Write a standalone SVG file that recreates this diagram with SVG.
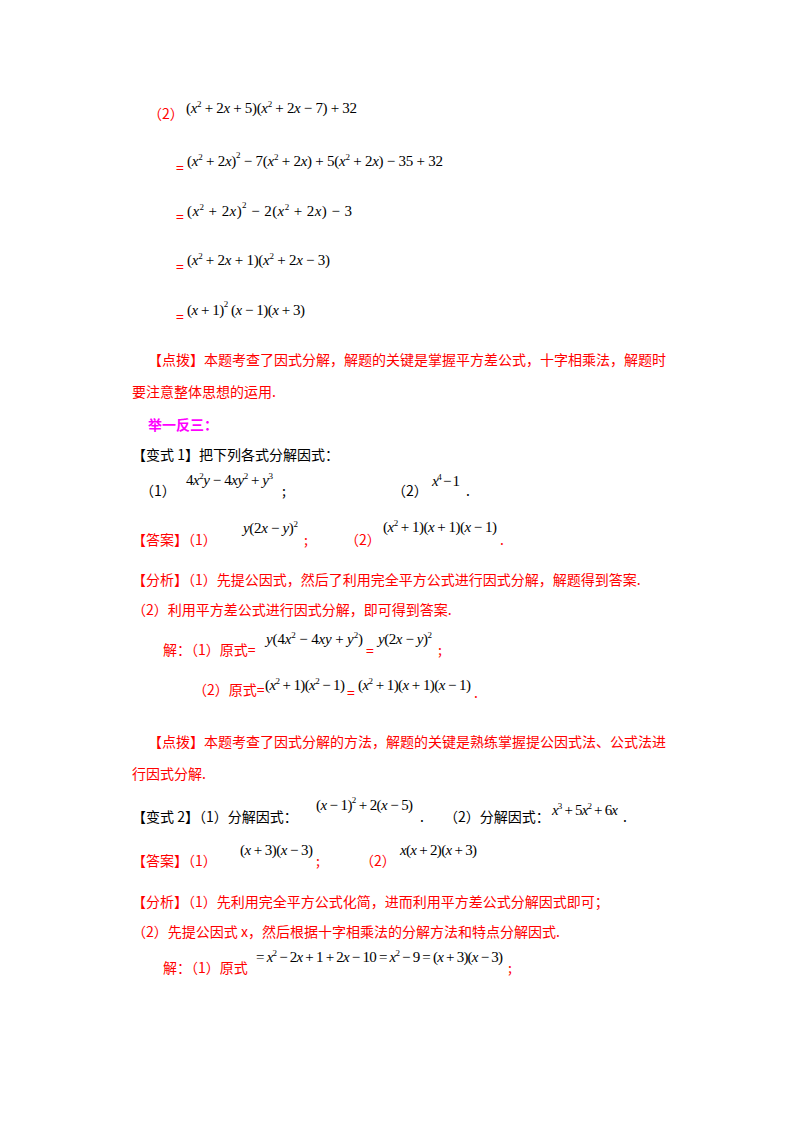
<svg xmlns="http://www.w3.org/2000/svg" width="800" height="1132" viewBox="0 0 800 1132">
<style>
.c{font-family:"Noto Sans CJK SC","Liberation Serif",sans-serif;font-size:14px;fill:#000}
.r{fill:#ff0000}
.m{font-family:"Liberation Serif",serif;font-size:15px;fill:#000}
.i{font-style:italic}
.s{font-size:9px}
</style>
<rect width="800" height="1132" fill="#fff"/>
<g id="p1">
<text class="c r" x="148" y="119">（2）</text>
<text class="m" x="186" y="113" textLength="171" lengthAdjust="spacing">(<tspan class="i">x</tspan><tspan class="s" dy="-6">2</tspan><tspan dy="6"> + 2</tspan><tspan class="i">x</tspan> + 5)(<tspan class="i">x</tspan><tspan class="s" dy="-6">2</tspan><tspan dy="6"> + 2</tspan><tspan class="i">x</tspan> − 7) + 32</text>
<text class="c r" x="176" y="173">=</text>
<text class="m" x="187" y="166" textLength="256" lengthAdjust="spacing">(<tspan class="i">x</tspan><tspan class="s" dy="-6">2</tspan><tspan dy="6"> + 2</tspan><tspan class="i">x</tspan>)<tspan class="s" dy="-8">2</tspan><tspan dy="8"> − 7(</tspan><tspan class="i">x</tspan><tspan class="s" dy="-6">2</tspan><tspan dy="6"> + 2</tspan><tspan class="i">x</tspan>) + 5(<tspan class="i">x</tspan><tspan class="s" dy="-6">2</tspan><tspan dy="6"> + 2</tspan><tspan class="i">x</tspan>) − 35 + 32</text>
<text class="c r" x="176" y="222">=</text>
<text class="m" x="187" y="216" textLength="165" lengthAdjust="spacing">(<tspan class="i">x</tspan><tspan class="s" dy="-6">2</tspan><tspan dy="6"> + 2</tspan><tspan class="i">x</tspan>)<tspan class="s" dy="-8">2</tspan><tspan dy="8"> − 2(</tspan><tspan class="i">x</tspan><tspan class="s" dy="-6">2</tspan><tspan dy="6"> + 2</tspan><tspan class="i">x</tspan>) − 3</text>
<text class="c r" x="176" y="272">=</text>
<text class="m" x="187" y="265" textLength="143" lengthAdjust="spacing">(<tspan class="i">x</tspan><tspan class="s" dy="-6">2</tspan><tspan dy="6"> + 2</tspan><tspan class="i">x</tspan> + 1)(<tspan class="i">x</tspan><tspan class="s" dy="-6">2</tspan><tspan dy="6"> + 2</tspan><tspan class="i">x</tspan> − 3)</text>
<text class="c r" x="176" y="322">=</text>
<text class="m" x="187" y="315" textLength="118" lengthAdjust="spacing">(<tspan class="i">x</tspan> + 1)<tspan class="s" dy="-8">2</tspan><tspan dy="8"> (</tspan><tspan class="i">x</tspan> − 1)(<tspan class="i">x</tspan> + 3)</text>
</g>
<g id="p2">
<text class="c r" x="148" y="365">【点拨】本题考查了因式分解，解题的关键是掌握平方差公式，十字相乘法，解题时</text>
<text class="c r" x="132" y="397">要注意整体思想的运用.</text>
<text class="c" x="148" y="430" style="fill:#ff00ff;font-weight:bold">举一反三：</text>
<text class="c" x="132" y="460">【变式 1】把下列各式分解因式：</text>
<text class="c" x="140" y="496">（1）</text>
<text class="m" x="186" y="485" textLength="87" lengthAdjust="spacing">4<tspan class="i">x</tspan><tspan class="s" dy="-6">2</tspan><tspan class="i" dy="6">y</tspan> − 4<tspan class="i">xy</tspan><tspan class="s" dy="-6">2</tspan><tspan dy="6"> + </tspan><tspan class="i">y</tspan><tspan class="s" dy="-6">3</tspan></text>
<text class="c" x="282" y="496">;</text>
<text class="c" x="392" y="496">（2）</text>
<text class="m" x="432" y="486" textLength="28" lengthAdjust="spacing"><tspan class="i">x</tspan><tspan class="s" dy="-6">4</tspan><tspan dy="6"> − 1</tspan></text>
<text class="c" x="466" y="496">.</text>
<text class="c r" x="132" y="545">【答案】（1）</text>
<text class="m" x="243" y="533" textLength="55" lengthAdjust="spacing"><tspan class="i">y</tspan>(2<tspan class="i">x</tspan> − <tspan class="i">y</tspan>)<tspan class="s" dy="-6">2</tspan></text>
<text class="c r" x="304" y="545">;</text>
<text class="c r" x="345" y="545">（2）</text>
<text class="m" x="383" y="532" textLength="114" lengthAdjust="spacing">(<tspan class="i">x</tspan><tspan class="s" dy="-6">2</tspan><tspan dy="6"> + 1)(</tspan><tspan class="i">x</tspan> + 1)(<tspan class="i">x</tspan> − 1)</text>
<text class="c r" x="500" y="545">.</text>
<text class="c r" x="132" y="585">【分析】（1）先提公因式，然后了利用完全平方公式进行因式分解，解题得到答案.</text>
<text class="c r" x="132" y="615">（2）利用平方差公式进行因式分解，即可得到答案.</text>
<text class="c r" x="163" y="655">解：（1）原式=</text>
<text class="m" x="266" y="644" textLength="97" lengthAdjust="spacing"><tspan class="i">y</tspan>(4<tspan class="i">x</tspan><tspan class="s" dy="-6">2</tspan><tspan dy="6"> − 4</tspan><tspan class="i">xy</tspan> + <tspan class="i">y</tspan><tspan class="s" dy="-6">2</tspan><tspan dy="6">)</tspan></text>
<text class="c r" x="366" y="656">=</text>
<text class="m" x="378" y="644" textLength="54" lengthAdjust="spacing"><tspan class="i">y</tspan>(2<tspan class="i">x</tspan> − <tspan class="i">y</tspan>)<tspan class="s" dy="-6">2</tspan></text>
<text class="c r" x="438" y="655">;</text>
<text class="c r" x="193" y="695">（2）原式=</text>
<text class="m" x="265" y="690" textLength="80" lengthAdjust="spacing">(<tspan class="i">x</tspan><tspan class="s" dy="-6">2</tspan><tspan dy="6"> + 1)(</tspan><tspan class="i">x</tspan><tspan class="s" dy="-6">2</tspan><tspan dy="6"> − 1)</tspan></text>
<text class="c r" x="347" y="698">=</text>
<text class="m" x="358" y="690" textLength="113" lengthAdjust="spacing">(<tspan class="i">x</tspan><tspan class="s" dy="-6">2</tspan><tspan dy="6"> + 1)(</tspan><tspan class="i">x</tspan> + 1)(<tspan class="i">x</tspan> − 1)</text>
<text class="c r" x="474" y="698">.</text>
<text class="c r" x="148" y="747">【点拨】本题考查了因式分解的方法，解题的关键是熟练掌握提公因式法、公式法进</text>
<text class="c r" x="132" y="779">行因式分解.</text>
</g>
<g id="p3">
<text class="c" x="132" y="822">【变式 2】（1）分解因式：</text>
<text class="m" x="316" y="810" textLength="97" lengthAdjust="spacing">(<tspan class="i">x</tspan> − 1)<tspan class="s" dy="-7">2</tspan><tspan dy="7"> + 2(</tspan><tspan class="i">x</tspan> − 5)</text>
<text class="c" x="420" y="822">.</text>
<text class="c" x="444" y="822">（2）分解因式：</text>
<text class="m" x="552" y="815" textLength="66" lengthAdjust="spacing"><tspan class="i">x</tspan><tspan class="s" dy="-6">3</tspan><tspan dy="6"> + 5</tspan><tspan class="i">x</tspan><tspan class="s" dy="-6">2</tspan><tspan dy="6"> + 6</tspan><tspan class="i">x</tspan></text>
<text class="c" x="623" y="822">.</text>
<text class="c r" x="132" y="866">【答案】（1）</text>
<text class="m" x="240" y="855" textLength="73" lengthAdjust="spacing">(<tspan class="i">x</tspan> + 3)(<tspan class="i">x</tspan> − 3)</text>
<text class="c r" x="316" y="866">;</text>
<text class="c r" x="360" y="866">（2）</text>
<text class="m" x="400" y="855" textLength="77" lengthAdjust="spacing"><tspan class="i">x</tspan>(<tspan class="i">x</tspan> + 2)(<tspan class="i">x</tspan> + 3)</text>
<text class="c r" x="132" y="907">【分析】（1）先利用完全平方公式化简，进而利用平方差公式分解因式即可；</text>
<text class="c r" x="132" y="937">（2）先提公因式 x，然后根据十字相乘法的分解方法和特点分解因式.</text>
<text class="c r" x="163" y="973">解：（1）原式</text>
<text class="m" x="256" y="962" textLength="247" lengthAdjust="spacing">= <tspan class="i">x</tspan><tspan class="s" dy="-6">2</tspan><tspan dy="6"> − 2</tspan><tspan class="i">x</tspan> + 1 + 2<tspan class="i">x</tspan> − 10 = <tspan class="i">x</tspan><tspan class="s" dy="-6">2</tspan><tspan dy="6"> − 9 = (</tspan><tspan class="i">x</tspan> + 3)(<tspan class="i">x</tspan> − 3)</text>
<text class="c r" x="508" y="973">;</text>
</g>
</svg>
